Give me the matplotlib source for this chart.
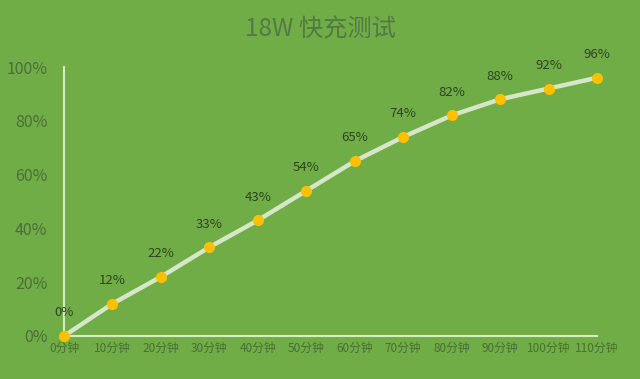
import matplotlib
matplotlib.use("Agg")
import matplotlib.pyplot as plt
from matplotlib.ticker import FuncFormatter

plt.rcParams['font.family'] = ['Noto Sans CJK SC', 'DejaVu Sans']

minutes = [0, 10, 20, 30, 40, 50, 60, 70, 80, 90, 100, 110]
percent = [0, 12, 22, 33, 43, 54, 65, 74, 82, 88, 92, 96]
x_labels = [f"{m}分钟" for m in minutes]
y_ticks = [0, 20, 40, 60, 80, 100]
title = "18W 快充测试"

bg = "#70AD47"
fig = plt.figure(figsize=(6.4, 3.79), dpi=100, facecolor=bg)
ax = fig.add_axes([0.1, 0.1135, 0.8328, 0.7097], facecolor=bg)

ax.plot(minutes, percent, color="#D6E6C8", lw=3.2, zorder=2, solid_capstyle='round')
ax.plot(minutes, percent, 'o', color="#FFC000", ms=7, mec="#FFC000", zorder=3)

for m, p in zip(minutes, percent):
    ax.annotate(f"{p}%", (m, p), xytext=(0, 12), textcoords="offset points",
                ha="center", va="bottom", fontsize=9.5, color="#2C4420")

ax.set_xlim(0, 110)
ax.set_ylim(0, 100)
ax.set_xticks(minutes)
ax.set_xticklabels(x_labels, fontsize=8.5, color="#4A6E38")
ax.set_yticks(y_ticks)
ax.yaxis.set_major_formatter(FuncFormatter(lambda v, _: f"{int(v)}%"))
ax.tick_params(axis='y', labelsize=11.5, colors="#4A6E38", length=0, pad=12)
ax.tick_params(axis='x', length=0, pad=4)
for lab in ax.get_yticklabels():
    lab.set_color("#4A6E38")

for s in ["top", "right"]:
    ax.spines[s].set_visible(False)
for s in ["left", "bottom"]:
    ax.spines[s].set_color("#D5EBC4")
    ax.spines[s].set_linewidth(1.5)
for art in ax.lines:
    art.set_clip_on(False)

fig.text(0.5, 0.923, title, ha="center", va="center", fontsize=17.5, color="#527A44")

fig.savefig("out.png", dpi=100, facecolor=bg)
